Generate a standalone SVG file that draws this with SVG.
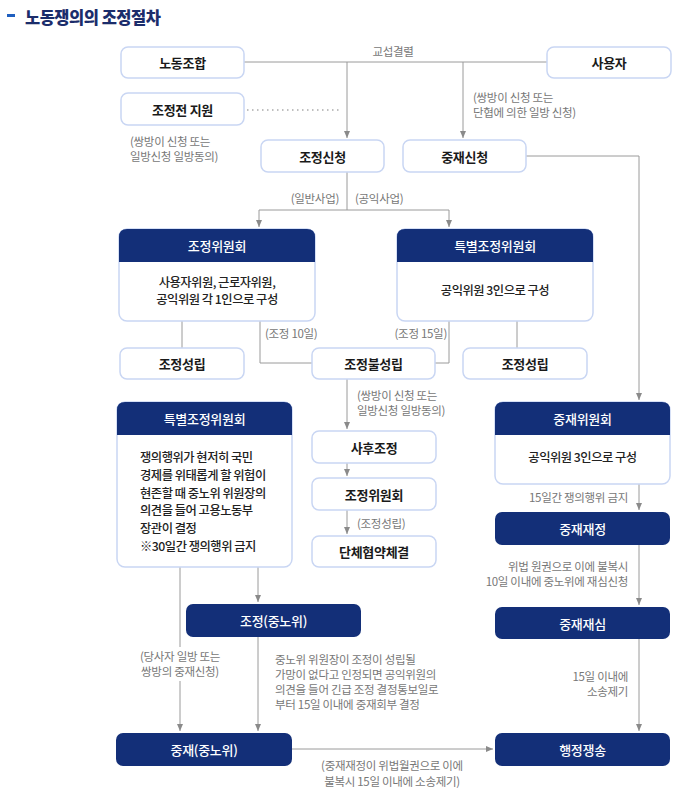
<svg xmlns="http://www.w3.org/2000/svg" width="700" height="808" viewBox="0 0 700 808">
<style>
text{font-family:"Noto Sans CJK KR","Noto Sans",sans-serif;}
.box{fill:#fff;stroke:#c9d6f3;stroke-width:1.5;}
.nav{fill:#132f78;}
.lbl{font-size:13px;font-weight:700;fill:#1a1a1a;text-anchor:middle;dominant-baseline:central;letter-spacing:-0.3px;}
.wl{font-size:13px;font-weight:500;fill:#fff;text-anchor:middle;dominant-baseline:central;letter-spacing:-0.3px;}
.body{font-size:12.3px;font-weight:500;fill:#222;dominant-baseline:central;letter-spacing:-0.5px;}
.note{font-size:11.5px;fill:#777;dominant-baseline:central;letter-spacing:-0.3px;}
.ln{fill:none;stroke:#9a9a9a;stroke-width:1;}
</style>
<defs>
<marker id="ah" markerUnits="userSpaceOnUse" markerWidth="8" markerHeight="6" refX="7" refY="3" orient="auto">
<path d="M0,0 L7,3 L0,6 Z" fill="#8a8a8a"/>
</marker>
</defs>
<g id="title">
<rect x="7" y="14" width="8" height="3" fill="#1f5fbf"/>
<text x="25" y="17" font-size="16.5" font-weight="900" fill="#1b2d6b" dominant-baseline="central" letter-spacing="-0.5">노동쟁의의 조정절차</text>
</g>
<g id="connectors">
<path class="ln" d="M244,62 H547"/>
<path class="ln" d="M347,62 V138" marker-end="url(#ah)"/>
<path class="ln" d="M463,62 V138" marker-end="url(#ah)"/>
<path d="M247,110 H342" fill="none" stroke="#aaa" stroke-width="1.5" stroke-dasharray="1.5 3.5"/>
<path class="ln" d="M347,172 V210"/>
<path class="ln" d="M259,210 H449"/>
<path class="ln" d="M259,210 V227" marker-end="url(#ah)"/>
<path class="ln" d="M449,210 V227" marker-end="url(#ah)"/>
<path class="ln" d="M182,321 V348"/>
<path class="ln" d="M260,321 V363 H312"/>
<path class="ln" d="M449,321 V363 H435"/>
<path class="ln" d="M517,321 V348"/>
<path class="ln" d="M526,156 H639 V400" marker-end="url(#ah)"/>
<path class="ln" d="M347,379 V429" marker-end="url(#ah)"/>
<path class="ln" d="M347,463 V476" marker-end="url(#ah)"/>
<path class="ln" d="M347,510 V534" marker-end="url(#ah)"/>
<path class="ln" d="M180,567 V647"/>
<path class="ln" d="M180,681 V731" marker-end="url(#ah)"/>
<path class="ln" d="M258,567 V602" marker-end="url(#ah)"/>
<path class="ln" d="M258,637 V731" marker-end="url(#ah)"/>
<path class="ln" d="M292,749 H493" marker-end="url(#ah)"/>
<path class="ln" d="M639,484 V510" marker-end="url(#ah)"/>
<path class="ln" d="M639,545 V605" marker-end="url(#ah)"/>
<path class="ln" d="M639,639 V731" marker-end="url(#ah)"/>
</g>
<g id="labels">
<text class="note" x="393" y="51" text-anchor="middle">교섭결렬</text>
<text class="note" x="130" y="141">(쌍방이 신청 또는</text>
<text class="note" x="130" y="156">일방신청 일방동의)</text>
<text class="note" x="473" y="97">(쌍방이 신청 또는</text>
<text class="note" x="473" y="112">단협에 의한 일방 신청)</text>
<text class="note" x="339" y="198" text-anchor="end">(일반사업)</text>
<text class="note" x="355" y="198">(공익사업)</text>
<text class="note" x="265" y="333">(조정 10일)</text>
<text class="note" x="447" y="333" text-anchor="end">(조정 15일)</text>
<text class="note" x="357" y="395">(쌍방이 신청 또는</text>
<text class="note" x="357" y="410">일방신청 일방동의)</text>
<text class="note" x="357" y="523">(조정성립)</text>
<text class="note" x="180" y="656" text-anchor="middle">(당사자 일방 또는</text>
<text class="note" x="180" y="671" text-anchor="middle">쌍방의 중재신청)</text>
<text class="note" x="275" y="659">중노위 위원장이 조정이 성립될</text>
<text class="note" x="275" y="674">가망이 없다고 인정되면 공익위원의</text>
<text class="note" x="275" y="689">의견을 들어 긴급 조정 결정통보일로</text>
<text class="note" x="275" y="704">부터 15일 이내에 중재회부 결정</text>
<text class="note" x="392" y="765" text-anchor="middle">(중재재정이 위법월권으로 이에</text>
<text class="note" x="392" y="781" text-anchor="middle">불복시 15일 이내에 소송제기)</text>
<text class="note" x="628" y="497" text-anchor="end">15일간 쟁의행위 금지</text>
<text class="note" x="628" y="566" text-anchor="end">위법 원권으로 이에 불복시</text>
<text class="note" x="628" y="581" text-anchor="end">10일 이내에 중노위에 재심신청</text>
<text class="note" x="628" y="676" text-anchor="end">15일 이내에</text>
<text class="note" x="628" y="691" text-anchor="end">소송제기</text>
</g>
<g id="n-union"><rect class="box" x="121" y="47" width="123" height="31" rx="7"/><text class="lbl" x="182.5" y="62.5">노동조합</text></g>
<g id="n-employer"><rect class="box" x="547" y="47" width="124" height="31" rx="7"/><text class="lbl" x="609" y="62.5">사용자</text></g>
<g id="n-presupport"><rect class="box" x="121" y="93" width="123" height="32" rx="7"/><text class="lbl" x="182.5" y="109">조정전 지원</text></g>
<g id="n-medreq"><rect class="box" x="261" y="140" width="123" height="32" rx="7"/><text class="lbl" x="322.5" y="156">조정신청</text></g>
<g id="n-arbreq"><rect class="box" x="403" y="140" width="123" height="32" rx="7"/><text class="lbl" x="464.5" y="156">중재신청</text></g>
<g id="n-medcom">
<rect class="box" x="119" y="229" width="196" height="92" rx="8"/>
<path class="nav" d="M119,262 V237 Q119,229 127,229 H307 Q315,229 315,237 V262 Z"/>
<text class="wl" x="217" y="245.5">조정위원회</text>
<text class="body" x="217" y="282" text-anchor="middle">사용자위원, 근로자위원,</text>
<text class="body" x="217" y="299" text-anchor="middle">공익위원 각 1인으로 구성</text>
</g>
<g id="n-specmedcom">
<rect class="box" x="397" y="229" width="196" height="92" rx="8"/>
<path class="nav" d="M397,262 V237 Q397,229 405,229 H585 Q593,229 593,237 V262 Z"/>
<text class="wl" x="495" y="245.5">특별조정위원회</text>
<text class="body" x="495" y="290" text-anchor="middle">공익위원 3인으로 구성</text>
</g>
<g id="n-success1"><rect class="box" x="120" y="348" width="124" height="31" rx="7"/><text class="lbl" x="182" y="363.5">조정성립</text></g>
<g id="n-fail"><rect class="box" x="312" y="348" width="123" height="31" rx="7"/><text class="lbl" x="373.5" y="363.5">조정불성립</text></g>
<g id="n-success2"><rect class="box" x="463" y="348" width="124" height="31" rx="7"/><text class="lbl" x="525" y="363.5">조정성립</text></g>
<g id="n-postmed"><rect class="box" x="312" y="431" width="124" height="32" rx="7"/><text class="lbl" x="374" y="447">사후조정</text></g>
<g id="n-medcom2"><rect class="box" x="312" y="478" width="124" height="32" rx="7"/><text class="lbl" x="374" y="494">조정위원회</text></g>
<g id="n-agreement"><rect class="box" x="312" y="536" width="124" height="31" rx="7"/><text class="lbl" x="374" y="551.5">단체협약체결</text></g>
<g id="n-specmedcom2">
<rect class="box" x="117" y="402" width="175" height="165" rx="8"/>
<path class="nav" d="M117,435 V410 Q117,402 125,402 H284 Q292,402 292,410 V435 Z"/>
<text class="wl" x="204.5" y="418.5">특별조정위원회</text>
<text class="body" x="140" y="457">쟁의행위가 현저히 국민</text>
<text class="body" x="140" y="475">경제를 위태롭게 할 위험이</text>
<text class="body" x="140" y="493">현존할 때 중노위 위원장의</text>
<text class="body" x="140" y="510">의견을 들어 고용노동부</text>
<text class="body" x="140" y="528">장관이 결정</text>
<text class="body" x="140" y="546">※30일간 쟁의행위 금지</text>
</g>
<g id="n-arbcom">
<rect class="box" x="495" y="402" width="175" height="82" rx="8"/>
<path class="nav" d="M495,435 V410 Q495,402 503,402 H662 Q670,402 670,410 V435 Z"/>
<text class="wl" x="582.5" y="418.5">중재위원회</text>
<text class="body" x="582.5" y="457" text-anchor="middle">공익위원 3인으로 구성</text>
</g>
<g id="n-arbaward"><rect class="nav" x="495" y="512" width="175" height="33" rx="7"/><text class="wl" x="582.5" y="528.5">중재재정</text></g>
<g id="n-med-nlrc"><rect class="nav" x="186" y="604" width="175" height="33" rx="7"/><text class="wl" x="273.5" y="620.5">조정(중노위)</text></g>
<g id="n-rereview"><rect class="nav" x="495" y="607" width="175" height="32" rx="7"/><text class="wl" x="582.5" y="623">중재재심</text></g>
<g id="n-arb-nlrc"><rect class="nav" x="116" y="733" width="176" height="33" rx="7"/><text class="wl" x="204" y="749.5">중재(중노위)</text></g>
<g id="n-admin"><rect class="nav" x="495" y="733" width="175" height="33" rx="7"/><text class="wl" x="582.5" y="749.5">행정쟁송</text></g>
</svg>
